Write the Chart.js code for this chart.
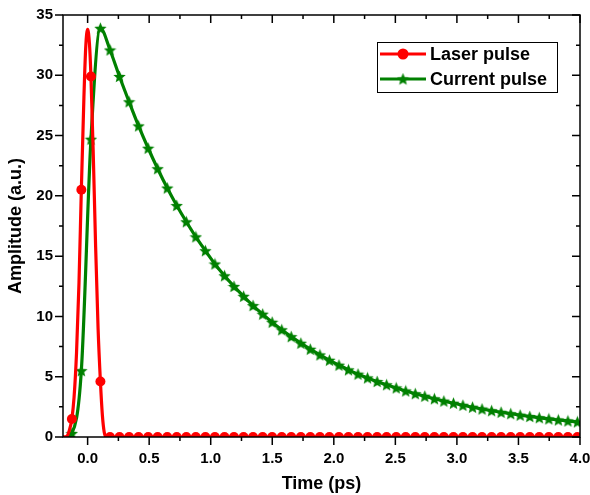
<!DOCTYPE html>
<html>
<head>
<meta charset="utf-8">
<script src="https://cdn.jsdelivr.net/npm/chart.js@4/dist/chart.umd.min.js"></script>
<style>
  html, body { margin: 0; padding: 0; background: #fff; }
</style>
</head>
<body>
<canvas id="chart" width="590" height="495"></canvas>
<script>
// Sample times shared by the markers of both curves (ps)
const pulseTime = [
  -0.128, -0.051, 0.027, 0.104, 0.182, 0.259, 0.337, 0.414, 0.492, 0.569,
  0.647, 0.724, 0.802, 0.879, 0.957, 1.034, 1.112, 1.189, 1.267, 1.344,
  1.422, 1.499, 1.577, 1.654, 1.732, 1.809, 1.887, 1.964, 2.042, 2.119,
  2.197, 2.274, 2.352, 2.429, 2.507, 2.584, 2.662, 2.739, 2.817, 2.894,
  2.972, 3.049, 3.127, 3.204, 3.282, 3.359, 3.437, 3.514, 3.592, 3.669,
  3.747, 3.824, 3.902, 3.979
];

// Laser pulse markers (a.u.)
const laserMarkers = [
  1.5, 20.5, 29.9, 4.6, 0, 0, 0, 0, 0, 0,
  0, 0, 0, 0, 0, 0, 0, 0, 0, 0,
  0, 0, 0, 0, 0, 0, 0, 0, 0, 0,
  0, 0, 0, 0, 0, 0, 0, 0, 0, 0,
  0, 0, 0, 0, 0, 0, 0, 0, 0, 0,
  0, 0, 0, 0
];

// Laser pulse line, read more finely around the peak
const laserCurveTime = [-0.2, -0.17, -0.15, -0.128, -0.11, -0.09, -0.07, -0.051, -0.03, -0.015,
  0.0, 0.015, 0.027, 0.045, 0.065, 0.085, 0.104, 0.12, 0.135, 0.15, 4.0];
const laserCurveValues = [0, 0.05, 0.5, 1.5, 3.3, 7.0, 12.8, 20.5, 28.2, 32.4,
  33.8, 32.6, 29.9, 23.8, 15.8, 9.0, 4.6, 1.8, 0.4, 0, 0];

// Current pulse (a.u.); first point is the onset, drawn without a marker
const currentOnset = [-0.17];
const currentPulse = [
  0, 0.3, 5.5, 24.7, 33.9, 32.1, 29.9, 27.8, 25.8, 23.95, 22.25,
  20.65, 19.2, 17.85, 16.6, 15.45, 14.35, 13.37, 12.49, 11.67, 10.90,
  10.19, 9.52, 8.89, 8.32, 7.78, 7.28, 6.81, 6.37, 5.96, 5.57,
  5.21, 4.90, 4.60, 4.33, 4.07, 3.82, 3.59, 3.38, 3.17, 2.98,
  2.80, 2.63, 2.47, 2.32, 2.18, 2.05, 1.93, 1.81, 1.70, 1.60,
  1.50, 1.41, 1.33, 1.25
];
const currentTime = currentOnset.concat(pulseTime);

const seriesNames = ['Laser pulse', 'Current pulse'];
const RED = '#ff0000';
const GREEN = '#008000';
const FONT = '"Liberation Sans", Arial, sans-serif';

function starImage(size, color) {
  const c = document.createElement('canvas');
  c.width = c.height = size;
  const g = c.getContext('2d');
  const r = size / 2, ri = r * 0.45;
  g.beginPath();
  for (let i = 0; i < 10; i++) {
    const rad = i % 2 ? ri : r;
    const ang = -Math.PI / 2 + i * Math.PI / 5;
    g.lineTo(r + rad * Math.cos(ang), r + 0.5 + rad * Math.sin(ang));
  }
  g.closePath();
  g.fillStyle = color;
  g.fill();
  return c;
}
const star = starImage(13, GREEN);

const toPoints = (xs, ys) => xs.map((t, i) => ({ x: t, y: ys[i] }));

// frame, minor ticks and mirrored ticks on top / right
const frameTicks = {
  id: 'frameTicks',
  afterDatasetsDraw(chart) {
    const { ctx, chartArea: a, scales: { x, y } } = chart;
    ctx.save();
    ctx.strokeStyle = '#000';
    ctx.lineWidth = 1.5;
    ctx.strokeRect(a.left, a.top, a.right - a.left, a.bottom - a.top);
    ctx.beginPath();
    for (let i = 0; i <= 16; i++) {
      const px = x.getPixelForValue(i * 0.25);
      const len = i % 2 === 0 ? 8 : 4;
      ctx.moveTo(px, a.bottom); ctx.lineTo(px, a.bottom + len);
      ctx.moveTo(px, a.top); ctx.lineTo(px, a.top + len);
    }
    for (let i = 0; i <= 14; i++) {
      const py = y.getPixelForValue(i * 2.5);
      const len = i % 2 === 0 ? 8 : 4;
      ctx.moveTo(a.left, py); ctx.lineTo(a.left - len, py);
      ctx.moveTo(a.right, py); ctx.lineTo(a.right - len, py);
    }
    ctx.stroke();
    ctx.restore();
  },
  afterDraw(chart) {
    const ctx = chart.ctx;
    ctx.save();
    ctx.strokeStyle = '#000';
    ctx.lineWidth = 1;
    ctx.fillStyle = '#fff';
    ctx.fillRect(377.5, 42.5, 180, 50);
    ctx.strokeRect(377.5, 42.5, 180, 50);
    const rows = [54, 79];
    const colors = [RED, GREEN];
    ctx.font = 'bold 18px ' + FONT;
    ctx.textBaseline = 'middle';
    rows.forEach((ry, i) => {
      ctx.strokeStyle = colors[i];
      ctx.lineWidth = 3;
      ctx.beginPath();
      ctx.moveTo(380, ry); ctx.lineTo(426, ry);
      ctx.stroke();
      if (i === 0) {
        ctx.fillStyle = RED;
        ctx.beginPath();
        ctx.arc(403, ry, 5.5, 0, Math.PI * 2);
        ctx.fill();
      } else {
        ctx.drawImage(star, 396.5, ry - 6.5);
      }
      ctx.fillStyle = '#000';
      ctx.fillText(seriesNames[i], 430, ry + 1);
    });
    ctx.restore();
  }
};

new Chart(document.getElementById('chart'), {
  type: 'line',
  data: {
    datasets: [
      {
        label: seriesNames[0],
        data: toPoints(laserCurveTime, laserCurveValues),
        borderColor: RED,
        borderWidth: 3.2,
        pointRadius: 0,
        cubicInterpolationMode: 'monotone',
        clip: 0
      },
      {
        label: seriesNames[0] + ' markers',
        data: toPoints(pulseTime, laserMarkers),
        showLine: false,
        pointStyle: 'circle',
        pointRadius: 5,
        pointBackgroundColor: RED,
        pointBorderWidth: 0,
        clip: 0
      },
      {
        label: seriesNames[1],
        data: toPoints(currentTime, currentPulse),
        borderColor: GREEN,
        borderWidth: 3.2,
        cubicInterpolationMode: 'monotone',
        pointStyle: star,
        pointRadius: ctx => (ctx.dataIndex === 0 ? 0 : 6),
        clip: 0
      }
    ]
  },
  options: {
    responsive: false,
    animation: false,
    layout: { padding: { top: 15, right: 10, left: 0, bottom: 0 } },
    plugins: { legend: { display: false }, tooltip: { enabled: false } },
    scales: {
      x: {
        type: 'linear',
        min: -0.2,
        max: 4.0,
        grid: { display: false },
        border: { display: false },
        ticks: {
          stepSize: 0.5,
          includeBounds: false,
          padding: 5,
          color: '#000',
          font: { family: FONT, size: 15, weight: 'bold' },
          callback: v => v.toFixed(1)
        },
        title: {
          display: true,
          text: 'Time (ps)',
          color: '#000',
          font: { family: FONT, size: 18, weight: 'bold' },
          padding: { top: 0, bottom: 0 }
        },
        afterFit: s => { s.height = 58; s.paddingRight = 0; s.paddingLeft = 0; }
      },
      y: {
        min: 0,
        max: 35,
        grid: { display: false },
        border: { display: false },
        ticks: {
          stepSize: 5,
          padding: 2,
          color: '#000',
          font: { family: FONT, size: 15, weight: 'bold' }
        },
        title: {
          display: true,
          text: 'Amplitude (a.u.)',
          color: '#000',
          font: { family: FONT, size: 18, weight: 'bold' },
          padding: { top: 5, bottom: 0 }
        },
        afterFit: s => { s.width = 63; s.paddingTop = 0; s.paddingBottom = 0; }
      }
    }
  },
  plugins: [frameTicks]
});
</script>
</body>
</html>
